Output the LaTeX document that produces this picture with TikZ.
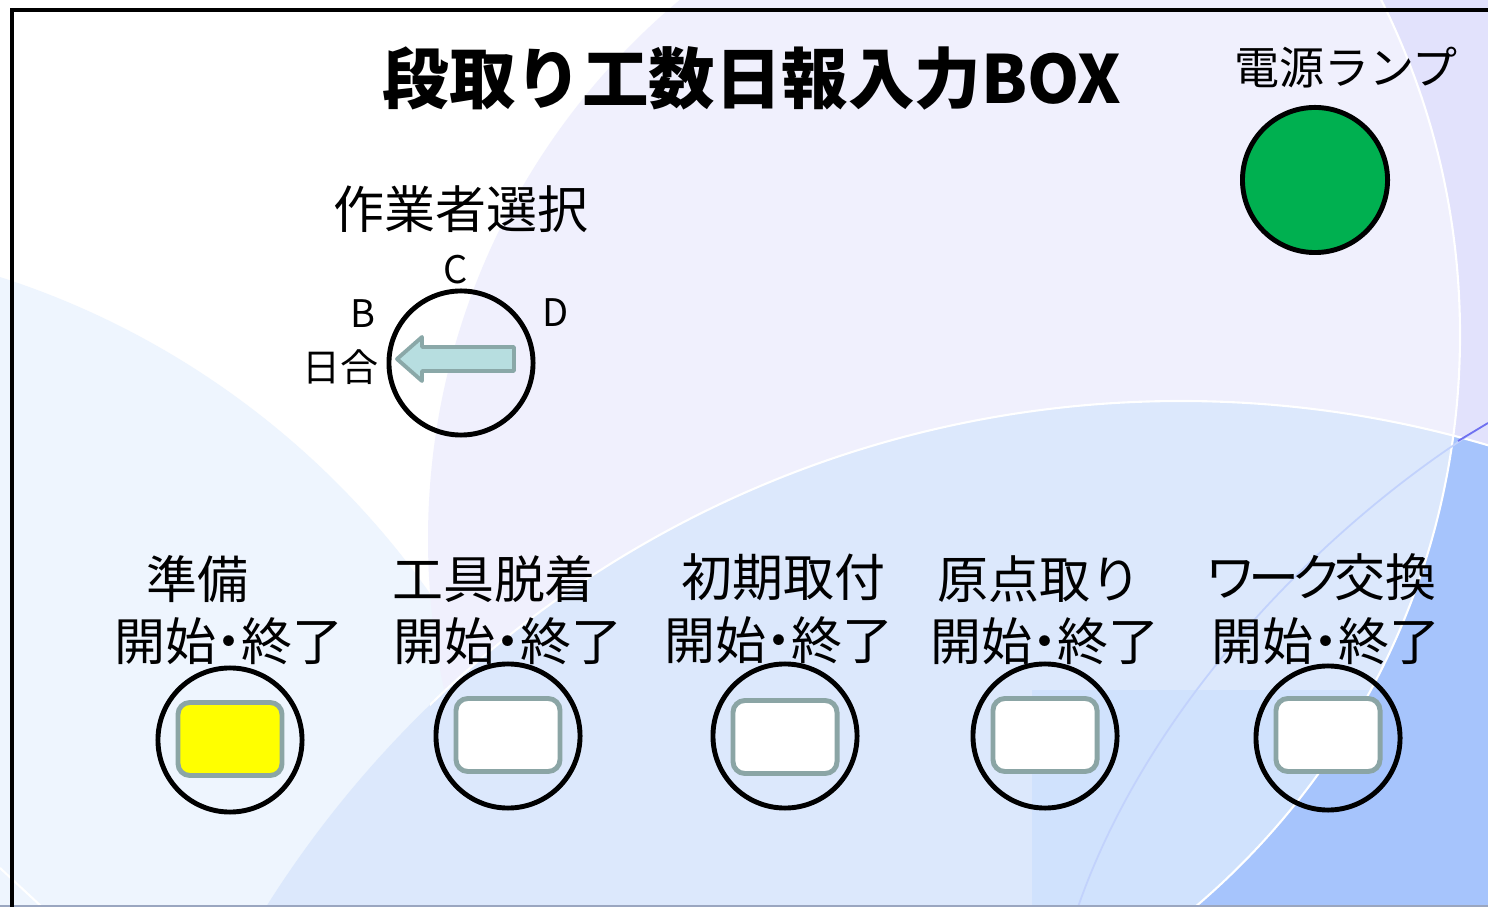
\documentclass[tikz,border=0pt]{standalone}
\usepackage{fontspec}
\setmainfont{Noto Sans CJK JP}
\definecolor{bgC}{HTML}{EEF5FE}
\definecolor{bgA}{HTML}{F0F0FD}
\definecolor{bgAd}{HTML}{E2E2FC}
\definecolor{bgD}{HTML}{DCE8FC}
\definecolor{bgDtwo}{HTML}{D0E2FD}
\definecolor{bgE}{HTML}{A6C4FC}
\definecolor{thinline}{HTML}{C2D2FC}
\definecolor{violetline}{HTML}{7070F0}
\definecolor{lampgreen}{HTML}{00B050}
\definecolor{keyedge}{HTML}{8BA5A5}
\definecolor{keyyellow}{HTML}{FFFF00}
\definecolor{arrowfill}{HTML}{B7DEE0}
\definecolor{arrowedge}{HTML}{8AA8A8}
\definecolor{bottomline}{HTML}{9AA6C0}
\tikzset{
  ring/.style={circle, draw=black, line width=1.4pt, minimum size=1.44cm, inner sep=0pt},
  keybox/.style={rectangle, draw=keyedge, line width=1.4pt, rounded corners=3.4pt,
                 minimum width=1.04cm, minimum height=0.73cm, inner sep=0pt},
  lbl/.style={inner sep=0pt, font=\fontsize{14.5pt}{17pt}\selectfont},
  small/.style={inner sep=0pt, font=\fontsize{10.8pt}{13pt}\selectfont},
  knobarrow/.style={fill=arrowfill, draw=arrowedge, line width=1.1pt, line join=round},
}
\newcommand{\kdot}{\kern-0.25em・\kern-0.25em}
\newcommand{\kk}{\kern-0.16em}
\begin{document}
\begin{tikzpicture}[x=0.01cm, y=-0.01cm]
\useasboundingbox (0,0) rectangle (1488,907);
% ---------- background ----------
\begin{scope}
  \clip (0,0) rectangle (1488,907);
  \fill[white] (0,0) rectangle (1488,907);
  \fill[bgC] (-257,1077) circle (840);
  \fill[bgA] (1131,539) circle (703);
  \begin{scope}
    \clip (1131,539) circle (703);
    \fill[bgAd, even odd rule] (-10,-10) rectangle (1500,920) (710,335) circle (750);
  \end{scope}
  \fill[bgD] (1181,1481) circle (1080);
  \begin{scope}
    \clip (1181,1481) circle (1080);
    \fill[bgDtwo] (1032,690) rectangle (1500,920);
    \fill[bgE, even odd rule] (-10,-10) rectangle (1500,920) (710,335) circle (750);
  \end{scope}
  \begin{scope}
    \clip (430,0) rectangle (1500,920);
    \draw[white, line width=0.6pt] (1181,1481) circle (1080);
  \end{scope}
  \begin{scope}
    \clip (1100,0) rectangle (1500,920);
    \draw[white, line width=0.6pt] (710,335) circle (750);
  \end{scope}
  \draw[thinline, line width=0.5pt] (1488,423) .. controls (1330,520) and (1150,700) .. (1078,907);
  \draw[violetline, line width=0.5pt] (1458,441) -- (1488,423);
  \draw[white, line width=0.6pt] (0,868) -- (42,907);
  \draw[bottomline, line width=0.5pt] (0,906) -- (1488,906);
  % frame
  \draw[black, line width=1.28pt, line join=miter] (12,920) -- (12,10) -- (1500,10);
\end{scope}
% ---------- title and lamp ----------
\node[inner sep=0pt, font=\fontsize{18.9pt}{23pt}\selectfont\bfseries] (title) at (752,78) {段取り工数日報入力BOX};
\node[inner sep=0pt, font=\fontsize{12.8pt}{15pt}\selectfont] (lamplbl) at (1346,68) {電源ランプ};
\node[circle, draw=black, line width=1.4pt, fill=lampgreen, minimum size=1.45cm, inner sep=0pt] (lamp) at (1315,180) {};
% ---------- selector ----------
\node[lbl] (sellbl) at (461,209) {作業者選択};
\node[ring] (knob) at (461,363) {};
\draw[knobarrow] (514,347) -- (422,347) -- (422,337) -- (397,359) -- (422,381) -- (422,371) -- (514,371) -- cycle;
\node[small] (posC) at (456,270) {C};
\node[small] (posB) at (363,314) {B};
\node[small] (posD) at (556,313) {D};
\node[small] (posH) at (340,367) {日合};
% ---------- buttons ----------
\node[lbl] (l1a) at (197,579) {準備};
\node[lbl] (l1b) at (229,641) {開始\kdot 終了};
\node[ring] (r1) at (230,740) {};
\node[keybox, fill=keyyellow] (k1) at (230,739) {};

\node[lbl] (l2a) at (494,579) {工具脱着};
\node[lbl] (l2b) at (508,641) {開始\kdot 終了};
\node[ring] (r2) at (508,736) {};
\node[keybox, fill=white] (k2) at (508,735) {};

\node[lbl] (l3a) at (783,577) {初期取付};
\node[lbl] (l3b) at (779,640) {開始\kdot 終了};
\node[ring] (r3) at (785,736) {};
\node[keybox, fill=white] (k3) at (785,737) {};

\node[lbl] (l4a) at (1039,579) {原点取り};
\node[lbl] (l4b) at (1045,641) {開始\kdot 終了};
\node[ring] (r4) at (1045,736) {};
\node[keybox, fill=white] (k4) at (1045,735) {};

\node[lbl] (l5a) at (1321,577) {ワ\kk ー\kk ク\kk 交換};
\node[lbl] (l5b) at (1326,641) {開始\kdot 終了};
\node[ring] (r5) at (1328,738) {};
\node[keybox, fill=white] (k5) at (1328,735) {};
\end{tikzpicture}
\end{document}
